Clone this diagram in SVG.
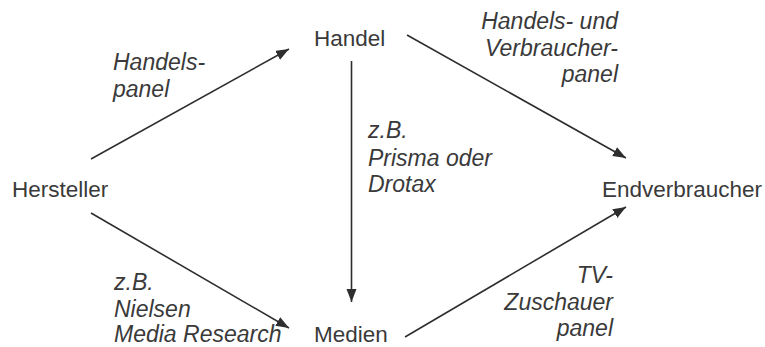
<svg xmlns="http://www.w3.org/2000/svg" width="765" height="347" viewBox="0 0 765 347">
<style>
.n{font-family:"Liberation Sans",Arial,sans-serif;font-size:22.5px;fill:#3a3a3a}
.l{font-family:"Liberation Sans",Arial,sans-serif;font-size:23px;font-style:italic;fill:#3a3a3a}
.c{stroke:#2e2e2e;stroke-width:1.6;fill:none;marker-end:url(#ah)}
</style>
<defs>
<marker id="ah" markerUnits="userSpaceOnUse" markerWidth="14" markerHeight="12" refX="13" refY="5" orient="auto">
<path d="M0,0 L13,5 L0,10 Z" fill="#2e2e2e"/>
</marker>
</defs>
<rect width="765" height="347" fill="#ffffff"/>
<g id="connectors">
<line class="c" x1="91" y1="159" x2="289" y2="49"/>
<line class="c" x1="91" y1="213" x2="289" y2="328"/>
<line class="c" x1="351.5" y1="61" x2="351.5" y2="302"/>
<line class="c" x1="407" y1="35" x2="626" y2="158"/>
<line class="c" x1="405" y1="337" x2="626" y2="207"/>
</g>
<g id="hersteller"><text class="n" x="12" y="197">Hersteller</text></g>
<g id="handel"><text class="n" x="314" y="46">Handel</text></g>
<g id="medien"><text class="n" x="314" y="342">Medien</text></g>
<g id="endverbraucher"><text class="n" x="602" y="197">Endverbraucher</text></g>
<g id="label-handelspanel">
<text class="l" x="113" y="70">Handels-</text>
<text class="l" x="113" y="97">panel</text>
</g>
<g id="label-nielsen">
<text class="l" x="114" y="290">z.B.</text>
<text class="l" x="114" y="317">Nielsen</text>
<text class="l" x="114" y="342">Media Research</text>
</g>
<g id="label-prisma">
<text class="l" x="368" y="138">z.B.</text>
<text class="l" x="368" y="166">Prisma oder</text>
<text class="l" x="368" y="192">Drotax</text>
</g>
<g id="label-hv" text-anchor="end">
<text class="l" x="618" y="29">Handels- und</text>
<text class="l" x="618" y="56">Verbraucher-</text>
<text class="l" x="618" y="82">panel</text>
</g>
<g id="label-tv" text-anchor="end">
<text class="l" x="613" y="283">TV-</text>
<text class="l" x="613" y="310">Zuschauer</text>
<text class="l" x="613" y="336">panel</text>
</g>
</svg>
